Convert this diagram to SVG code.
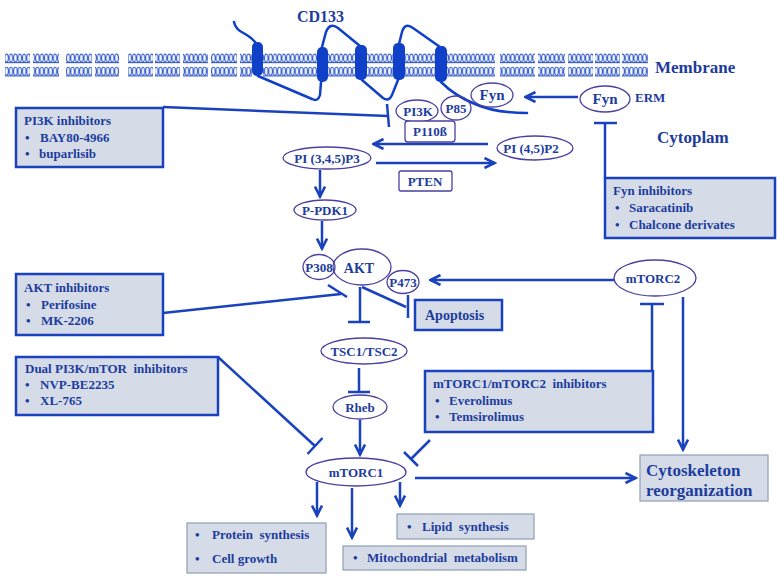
<svg xmlns="http://www.w3.org/2000/svg" width="781" height="580" viewBox="0 0 781 580">
<style>
text{font-family:"Liberation Serif","Times New Roman",serif;font-weight:bold;fill:#1d3c9e;font-size:13px}
.big{font-size:17px}
.mid{text-anchor:middle}
.node{fill:#fff;stroke:#4a40a0;stroke-width:1.3}
.nodeo{fill:none;stroke:#4a40a0;stroke-width:1.3}
.inh{fill:#d5dce8;stroke:#1a42bf;stroke-width:2.5}
.out{fill:#d5dce8;stroke:#8f9db4;stroke-width:1.2}
.ln{fill:none;stroke:#1a42bf;stroke-width:2.5}
.arr{marker-end:url(#ah)}
.tm{fill:#1040c8}
.cd{fill:none;stroke:#1040c8;stroke-width:2.5;stroke-linecap:round}
</style>
<defs>
<marker id="ah" markerUnits="userSpaceOnUse" viewBox="0 0 14 12" markerWidth="14" markerHeight="12" refX="12.5" refY="6" orient="auto">
<path d="M2,1 L12,6 L2,11" fill="none" stroke="#1a42bf" stroke-width="2.6"/>
</marker>
<pattern id="lip" patternUnits="userSpaceOnUse" x="0" y="53" width="4.4" height="24">
<ellipse cx="2.2" cy="5" rx="1.7" ry="3.9" fill="none" stroke="#3b62cf" stroke-width="1.1"/>
<ellipse cx="2.2" cy="18.2" rx="1.7" ry="4" fill="none" stroke="#3b62cf" stroke-width="1.1"/>
<line x1="0" y1="9.6" x2="4.4" y2="9.6" stroke="#2f55c4" stroke-width="1.1"/>
<line x1="0" y1="22.9" x2="4.4" y2="22.9" stroke="#2f55c4" stroke-width="1.1"/>
</pattern>
</defs>
<rect width="781" height="580" fill="#fff"/>

<g id="membrane">
<rect x="5" y="53" width="25" height="24" fill="url(#lip)"/>
<rect x="33" y="53" width="26" height="24" fill="url(#lip)"/>
<rect x="66" y="53" width="26" height="24" fill="url(#lip)"/>
<rect x="95" y="53" width="24" height="24" fill="url(#lip)"/>
<rect x="128" y="53" width="25" height="24" fill="url(#lip)"/>
<rect x="155" y="53" width="25" height="24" fill="url(#lip)"/>
<rect x="183" y="53" width="25" height="24" fill="url(#lip)"/>
<rect x="211" y="53" width="26" height="24" fill="url(#lip)"/>
<rect x="240" y="53" width="12" height="24" fill="url(#lip)"/>
<rect x="263" y="53" width="54" height="24" fill="url(#lip)"/>
<rect x="328" y="53" width="27" height="24" fill="url(#lip)"/>
<rect x="367" y="53" width="26" height="24" fill="url(#lip)"/>
<rect x="405" y="53" width="31" height="24" fill="url(#lip)"/>
<rect x="447" y="53" width="48" height="24" fill="url(#lip)"/>
<rect x="500" y="53" width="35" height="24" fill="url(#lip)"/>
<rect x="538" y="53" width="27" height="24" fill="url(#lip)"/>
<rect x="568" y="53" width="25" height="24" fill="url(#lip)"/>
<rect x="595" y="53" width="25" height="24" fill="url(#lip)"/>
<rect x="622" y="53" width="26" height="24" fill="url(#lip)"/>
<text x="655" y="73" class="big">Membrane</text>
<text x="657" y="143" class="big">Cytoplam</text>
</g>

<g id="CD133">
<path class="cd" d="M234,22 C236,34 250,32 257,45 M258,76 L312,99 Q318,102 320,95 L321,82 M322,47 L326,32 Q330,22 338,28 L360,46 M362,80 L383,98 Q389,102 392,95 L398,80 M399,44 L402,32 Q405,22 413,28 L440,47 M441,82 Q455,96 475,104 Q495,113 527,113"/>
<rect class="tm" x="252" y="42" width="11" height="34" rx="5"/>
<rect class="tm" x="317" y="47" width="11" height="35" rx="5"/>
<rect class="tm" x="355" y="45" width="12" height="35" rx="5"/>
<rect class="tm" x="393" y="43" width="12" height="37" rx="5"/>
<rect class="tm" x="435" y="46" width="12" height="36" rx="5"/>
<text x="297" y="22" style="font-size:16px">CD133</text>
</g>

<g id="connectors">
<line class="ln arr" x1="578" y1="97" x2="525" y2="97"/>
<line class="ln" x1="605" y1="178" x2="605" y2="123"/>
<line class="ln" x1="594" y1="123" x2="617" y2="123"/>
<line class="ln" x1="163" y1="107" x2="388" y2="116"/>
<line class="ln" x1="387" y1="104" x2="389" y2="127"/>
<line class="ln arr" x1="488" y1="144" x2="373" y2="144"/>
<line class="ln arr" x1="376" y1="163" x2="495" y2="163"/>
<line class="ln arr" x1="320" y1="170" x2="320" y2="197"/>
<line class="ln arr" x1="322" y1="221" x2="322" y2="249"/>
<line class="ln arr" x1="614" y1="280" x2="430" y2="280"/>
<line class="ln" x1="163" y1="313" x2="341" y2="294"/>
<line class="ln" x1="328" y1="285" x2="347" y2="297"/>
<line class="ln" x1="360" y1="287" x2="360" y2="322"/>
<line class="ln" x1="348" y1="322" x2="370" y2="322"/>
<line class="ln" x1="362" y1="287" x2="406" y2="307"/>
<line class="ln" x1="408" y1="295" x2="408" y2="318"/>
<line class="ln" x1="359" y1="368" x2="359" y2="392"/>
<line class="ln" x1="348" y1="392" x2="370" y2="392"/>
<line class="ln arr" x1="360" y1="420" x2="360" y2="455"/>
<line class="ln" x1="218" y1="357" x2="315" y2="446"/>
<line class="ln" x1="307.5" y1="454" x2="322.5" y2="438"/>
<line class="ln" x1="430" y1="440" x2="411" y2="459"/>
<line class="ln" x1="404" y1="452" x2="418" y2="466"/>
<line class="ln" x1="652" y1="371" x2="652" y2="304"/>
<line class="ln" x1="640" y1="304" x2="664" y2="304"/>
<line class="ln arr" x1="683" y1="297" x2="683" y2="450"/>
<line class="ln arr" x1="415" y1="478" x2="636" y2="478"/>
<line class="ln arr" x1="317" y1="482" x2="317" y2="516"/>
<line class="ln arr" x1="352" y1="488" x2="352" y2="538"/>
<line class="ln arr" x1="400" y1="482" x2="400" y2="506"/>
</g>

<g id="FynM"><ellipse class="node" cx="492" cy="95" rx="21" ry="12"/><text x="492" y="100" class="mid" style="font-size:15px">Fyn</text></g>
<g id="FynERM"><ellipse class="node" cx="605" cy="99" rx="25" ry="13"/><text x="605" y="104" class="mid" style="font-size:15px">Fyn</text><text x="635" y="102">ERM</text></g>
<g id="PI3K"><ellipse class="node" cx="417" cy="111" rx="21" ry="11"/><text x="418" y="116" class="mid">PI3K</text></g>
<g id="P85"><ellipse class="nodeo" cx="456" cy="108" rx="15" ry="12"/><text x="456" y="113" class="mid">P85</text></g>
<g id="P110"><rect class="node" x="405" y="121" width="50" height="21" rx="3"/><text x="430" y="136" class="mid">P110ß</text></g>
<g id="PIP3"><ellipse class="node" cx="327" cy="158" rx="44" ry="11"/><text x="327" y="163" class="mid">PI (3,4,5)P3</text></g>
<g id="PIP2"><ellipse class="node" cx="535" cy="148" rx="38" ry="12"/><text x="531" y="153" class="mid">PI (4,5)P2</text></g>
<g id="PTEN"><rect class="node" x="399" y="171" width="53" height="20" rx="2"/><text x="425" y="186" class="mid">PTEN</text></g>
<g id="PDK1"><ellipse class="node" cx="325" cy="210" rx="31" ry="10"/><text x="325" y="215" class="mid">P-PDK1</text></g>
<g id="AKT"><ellipse class="nodeo" cx="362" cy="267" rx="29" ry="18"/><text x="359" y="273" class="mid" style="font-size:14px">AKT</text></g>
<g id="P308"><ellipse class="nodeo" cx="319" cy="267" rx="16" ry="12.5"/><text x="319" y="272" class="mid">P308</text></g>
<g id="P473"><ellipse class="nodeo" cx="403" cy="282" rx="16" ry="11.5"/><text x="403" y="287" class="mid">P473</text></g>
<g id="mTORC2"><ellipse class="node" cx="655" cy="278" rx="41" ry="18"/><text x="653" y="283" class="mid">mTORC2</text></g>
<g id="Apoptosis"><rect class="inh" x="415" y="300" width="87" height="30"/><text x="425" y="320" style="font-size:14px">Apoptosis</text></g>
<g id="TSC"><ellipse class="node" cx="364" cy="351" rx="43" ry="13"/><text x="364" y="356" class="mid">TSC1/TSC2</text></g>
<g id="Rheb"><ellipse class="node" cx="360" cy="407" rx="27" ry="12"/><text x="360" y="412" class="mid">Rheb</text></g>
<g id="mTORC1"><ellipse class="node" cx="356" cy="472" rx="50" ry="14"/><text x="356" y="477" class="mid">mTORC1</text></g>
<g id="Cyto"><rect class="out" x="640" y="455" width="128" height="46"/><text x="646" y="476" style="font-size:17px">Cytoskeleton</text><text x="646" y="496" style="font-size:17px">reorganization</text></g>

<g id="PI3Kinh"><rect class="inh" x="16" y="108" width="147" height="59"/>
<text x="24" y="125">PI3K inhibitors</text><text x="25" y="142">•</text><text x="40" y="142">BAY80-4966</text><text x="25" y="158">•</text><text x="39" y="158">buparlisib</text></g>
<g id="Fyninh"><rect class="inh" x="605" y="178" width="170" height="60"/>
<text x="613" y="195">Fyn inhibitors</text><text x="615" y="212">•</text><text x="629" y="212">Saracatinib</text><text x="615" y="229">•</text><text x="629" y="229">Chalcone derivates</text></g>
<g id="AKTinh"><rect class="inh" x="16" y="274" width="147" height="61"/>
<text x="24" y="292">AKT inhibitors</text><text x="26" y="309">•</text><text x="41" y="309">Perifosine</text><text x="26" y="325">•</text><text x="41" y="325">MK-2206</text></g>
<g id="Dualinh"><rect class="inh" x="16" y="357" width="202" height="58"/>
<text x="25" y="373" xml:space="preserve">Dual PI3K/mTOR  inhibitors</text><text x="25" y="389">•</text><text x="40" y="389">NVP-BE2235</text><text x="25" y="405">•</text><text x="40" y="405">XL-765</text></g>
<g id="mTORinh"><rect class="inh" x="425" y="371" width="228" height="61"/>
<text x="433" y="388" xml:space="preserve">mTORC1/mTORC2  inhibitors</text><text x="435" y="405">•</text><text x="449" y="405">Everolimus</text><text x="435" y="421">•</text><text x="449" y="421">Temsirolimus</text></g>

<g id="Protein"><rect class="out" x="187" y="523" width="139" height="50"/>
<text x="195" y="539">•</text><text x="212" y="539" xml:space="preserve">Protein  synthesis</text><text x="195" y="563">•</text><text x="212" y="563">Cell growth</text></g>
<g id="Lipid"><rect class="out" x="397" y="514" width="137" height="25"/>
<text x="407" y="531">•</text><text x="422" y="531" xml:space="preserve">Lipid  synthesis</text></g>
<g id="Mito"><rect class="out" x="343" y="546" width="183" height="24"/>
<text x="353" y="562">•</text><text x="367" y="562" xml:space="preserve">Mitochondrial  metabolism</text></g>
</svg>
